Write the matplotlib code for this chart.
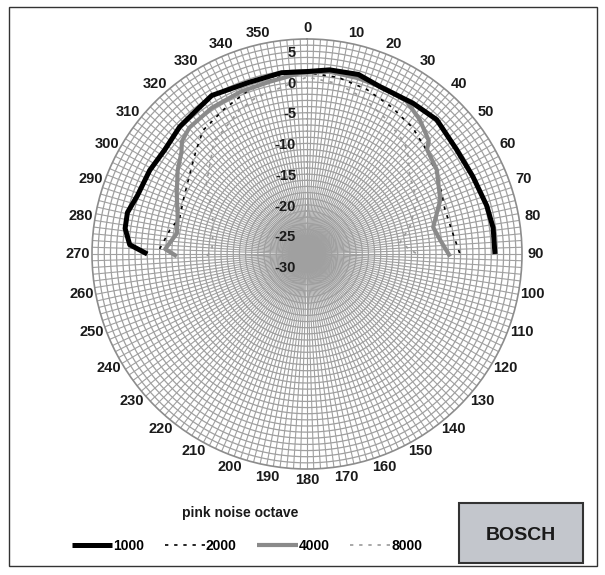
"""
Polar response of a loudspeaker, pink noise octave bands (Bosch style sheet)
"""
import numpy as np
import matplotlib
matplotlib.use("Agg")
import matplotlib.pyplot as plt
from matplotlib.patches import Rectangle

plt.rcParams['font.family'] = ['Liberation Sans', 'DejaVu Sans']
plt.rcParams['font.weight'] = 'bold'

W, H = 605, 575

# angle in degrees (clockwise from front), level in dB
ang_1000 = [-90, -87, -82, -77, -71, -62, -54, -45, -38, -31, -19, -8, 0, 7, 16, 24, 35, 44, 55, 65, 75, 82, 90]
db_1000 = [-4.0, -1.1, -0.1, 0.0, -0.8, -1.0, -1.3, -0.7, -0.5, 0.1, -0.5, -0.2, -0.3, 0.2, 0.4, -0.3, 0.0, 0.4, -0.3, -0.2, 0.3, 0.6, 0.6]

ang_2000 = [-88, -80, -74, -66, -55, -47, -40, -30, -18, -8, 0, 10, 20, 30, 40, 50, 60, 72, 81, 90]
db_2000 = [-6.0, -7.35, -8.45, -8.0, -6.8, -5.3, -3.7, -2.85, -1.4, -0.8, -0.5, -0.8, -1.5, -2.4, -3.2, -4.3, -5.3, -6.4, -6.1, -5.1]

ang_4000 = [-91, -88, -81, -74, -65, -57, -51, -48, -43, -33, -22, -12, -2, 7, 16, 25, 33, 40, 47, 49, 57, 68, 78, 84, 91]
db_4000 = [-8.8, -6.9, -8.55, -8.1, -6.6, -4.9, -3.7, -2.6, -1.9, -1.6, -1.45, -1.3, -0.5, -0.1, -0.2, -0.2, -0.3, -1.45, -2.9, -4.1, -4.8, -6.6, -9.0, -8.2, -6.7]

ang_8000 = [-91, -88, -80, -69, -61, -55, -42, -40, -25, -18, -9, 0, 10, 20, 30, 40, 44, 53, 64, 75, 83, 90]
db_8000 = [-13.7, -14.5, -14.4, -13.55, -11.9, -10.0, -7.05, -6.3, -4.1, -3.2, -2.6, -1.2, -1.8, -3.0, -4.5, -5.8, -6.5, -9.05, -10.05, -12.65, -14.75, -12.1]

series_labels = ['1000', '2000', '4000', '8000']
r_ticks = [5, 0, -5, -10, -15, -20, -25, -30]
angle_ticks = list(range(0, 360, 10))

r_min, r_max = -30, 5
grid_col = '#a0a0a0'

fig = plt.figure(figsize=(W / 100, H / 100), dpi=100)
cx, cy, R = 307, 254, 215
ax = fig.add_axes([(cx - R) / W, (H - cy - R) / H, 2 * R / W, 2 * R / H], projection='polar')
ax.set_theta_zero_location('N')
ax.set_theta_direction(-1)
ax.set_ylim(r_min, r_max)
ax.set_xticks([])
ax.set_yticks([])
ax.grid(False)
ax.spines['polar'].set_color('#8c8c8c')
ax.spines['polar'].set_linewidth(1.2)

# fine grid: 1 dB rings and radial spokes
tt = np.linspace(0, 2 * np.pi, 721)
for v in range(r_min + 1, r_max):
    ax.plot(tt, np.full_like(tt, v), color=grid_col, lw=0.9, zorder=1)
spokes = np.deg2rad(np.arange(0, 360, 1.8))
ax.vlines(spokes, r_min, r_max, colors=grid_col, lw=0.8, zorder=1)

dash = (0, (2, 3.5))
l1, = ax.plot(np.deg2rad(ang_1000), db_1000, color='black', lw=3.6, zorder=5, solid_capstyle='butt')
l2, = ax.plot(np.deg2rad(ang_2000), db_2000, color='black', lw=1.2, ls=dash, zorder=4)
l3, = ax.plot(np.deg2rad(ang_4000), db_4000, color='#8a8a8a', lw=3.0, zorder=4, solid_capstyle='butt')
l4, = ax.plot(np.deg2rad(ang_8000), db_8000, color='#9a9a9a', lw=1.2, ls=dash, zorder=3)

# angle labels just outside the outer ring; upper half nudged away from the front
for a in angle_ticks:
    c = np.cos(np.deg2rad(a))
    nudge = 0 if a in (0, 180) or c <= 0 else (2.5 * c if a < 180 else -2.5 * c)
    r_px = 226 + 3 * abs(np.sin(np.deg2rad(a)))
    ax.text(np.deg2rad(a + nudge), r_min + r_px / R * (r_max - r_min), str(a),
            ha='center', va='center', fontsize=10.5, color='#1a1a1a', clip_on=False)

# level labels along the 0 deg line
for v in r_ticks:
    ax.annotate(str(v), xy=(0, v), xytext=(-11, -14), textcoords='offset pixels',
                ha='right', va='center', fontsize=10.5, color='#1a1a1a', zorder=6)

leg = fig.legend([l1, l2, l3, l4], series_labels, loc='center left',
                 bbox_to_anchor=(72 / W, (H - 546) / H), ncol=4, frameon=False,
                 fontsize=10, handlelength=2.9, handletextpad=0.05, columnspacing=1.5,
                 borderpad=0, borderaxespad=0)

fig.text(240 / W, (H - 513) / H, 'pink noise octave', ha='center', va='center', fontsize=10,
         color='#1a1a1a')

# frame and logo box
fig.patches.append(Rectangle((9 / W, (H - 566) / H), 588 / W, 559 / H, transform=fig.transFigure,
                             fill=False, ec='#333333', lw=1))
fig.patches.append(Rectangle((459 / W, (H - 563) / H), 124 / W, 60 / H, transform=fig.transFigure,
                             fc='#c3c6cc', ec='#333333', lw=1.5))
fig.text(521 / W, (H - 535) / H, 'BOSCH', ha='center', va='center', fontsize=14, color='#1a1a1a')

plt.savefig('out.png', dpi=100)
